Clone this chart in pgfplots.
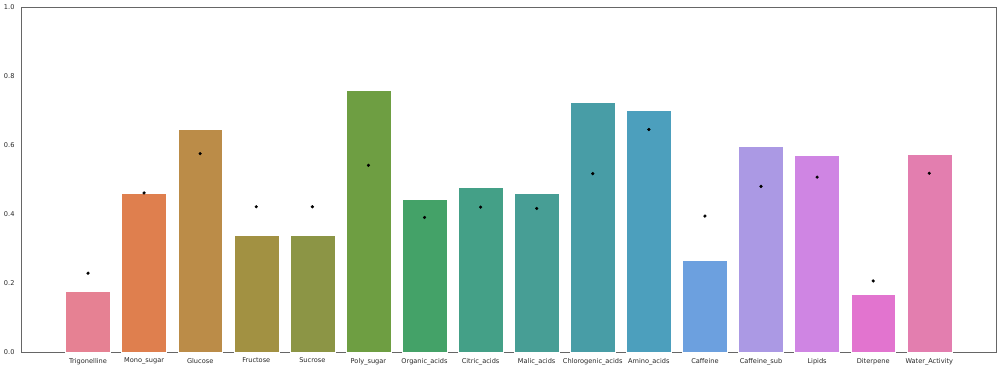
\documentclass[border=0pt]{standalone}
\usepackage{fontspec}
\setmainfont{DejaVu Sans}
\usepackage{pgfplots}
\pgfplotsset{compat=1.18}
\definecolor{c1}{HTML}{E68193}
\definecolor{c2}{HTML}{DF7F4E}
\definecolor{c3}{HTML}{BB8C48}
\definecolor{c4}{HTML}{A29142}
\definecolor{c5}{HTML}{8C9545}
\definecolor{c6}{HTML}{6E9E42}
\definecolor{c7}{HTML}{44A268}
\definecolor{c8}{HTML}{44A087}
\definecolor{c9}{HTML}{479E95}
\definecolor{c10}{HTML}{489DA6}
\definecolor{c11}{HTML}{4C9FBD}
\definecolor{c12}{HTML}{6CA0DF}
\definecolor{c13}{HTML}{AB99E4}
\definecolor{c14}{HTML}{CF85E3}
\definecolor{c15}{HTML}{E274CF}
\definecolor{c16}{HTML}{E37EAF}
\definecolor{txt}{HTML}{262626}
\begin{document}
\begin{tikzpicture}
\begin{axis}[
  scale only axis, width=975pt, height=345pt,
  xmin=-1.195, xmax=16.19, ymin=0, ymax=1,
  axis line style={draw=black!60, line width=0.9pt},
  major tick length=0pt,
  xtick={0,...,15},
  xticklabels={Trigonelline,Mono\_sugar,Glucose,Fructose,Sucrose,Poly\_sugar,Organic\_acids,Citric\_acids,Malic\_acids,Chlorogenic\_acids,Amino\_acids,Caffeine,Caffeine\_sub,Lipids,Diterpene,Water\_Activity},
  ytick={0,0.2,0.4,0.6,0.8,1.0},
  /pgf/number format/assume math mode=true,
  yticklabel style={/pgf/number format/fixed, /pgf/number format/fixed zerofill, /pgf/number format/precision=1},
  ticklabel style={font=\fontsize{6.6}{8}\selectfont, text=txt},
  xticklabel style={yshift=-2.5pt},
  yticklabel style={xshift=-3pt},
  every axis plot/.append style={bar shift=0pt},
]
\addplot[ybar, bar width=0.8, fill=c1, draw=white, line width=0.4pt] coordinates {(0,0.1765)};
\addplot[ybar, bar width=0.8, fill=c2, draw=white, line width=0.4pt] coordinates {(1,0.460)};
\addplot[ybar, bar width=0.8, fill=c3, draw=white, line width=0.4pt] coordinates {(2,0.647)};
\addplot[ybar, bar width=0.8, fill=c4, draw=white, line width=0.4pt] coordinates {(3,0.340)};
\addplot[ybar, bar width=0.8, fill=c5, draw=white, line width=0.4pt] coordinates {(4,0.340)};
\addplot[ybar, bar width=0.8, fill=c6, draw=white, line width=0.4pt] coordinates {(5,0.758)};
\addplot[ybar, bar width=0.8, fill=c7, draw=white, line width=0.4pt] coordinates {(6,0.443)};
\addplot[ybar, bar width=0.8, fill=c8, draw=white, line width=0.4pt] coordinates {(7,0.479)};
\addplot[ybar, bar width=0.8, fill=c9, draw=white, line width=0.4pt] coordinates {(8,0.461)};
\addplot[ybar, bar width=0.8, fill=c10, draw=white, line width=0.4pt] coordinates {(9,0.724)};
\addplot[ybar, bar width=0.8, fill=c11, draw=white, line width=0.4pt] coordinates {(10,0.701)};
\addplot[ybar, bar width=0.8, fill=c12, draw=white, line width=0.4pt] coordinates {(11,0.266)};
\addplot[ybar, bar width=0.8, fill=c13, draw=white, line width=0.4pt] coordinates {(12,0.596)};
\addplot[ybar, bar width=0.8, fill=c14, draw=white, line width=0.4pt] coordinates {(13,0.569)};
\addplot[ybar, bar width=0.8, fill=c15, draw=white, line width=0.4pt] coordinates {(14,0.167)};
\addplot[ybar, bar width=0.8, fill=c16, draw=white, line width=0.4pt] coordinates {(15,0.574)};
\addplot[only marks, mark=*, mark size=1.4pt, black] coordinates {
  (0,0.2285) (1,0.461) (2,0.575) (3,0.421) (4,0.421) (5,0.541) (6,0.390) (7,0.420)
  (8,0.416) (9,0.517) (10,0.645) (11,0.394) (12,0.480) (13,0.507) (14,0.206) (15,0.518)};
\end{axis}
\path ([shift={(-21pt,-18pt)}]current axis.south west) rectangle ([shift={(4pt,7pt)}]current axis.north east);
\end{tikzpicture}
\end{document}
